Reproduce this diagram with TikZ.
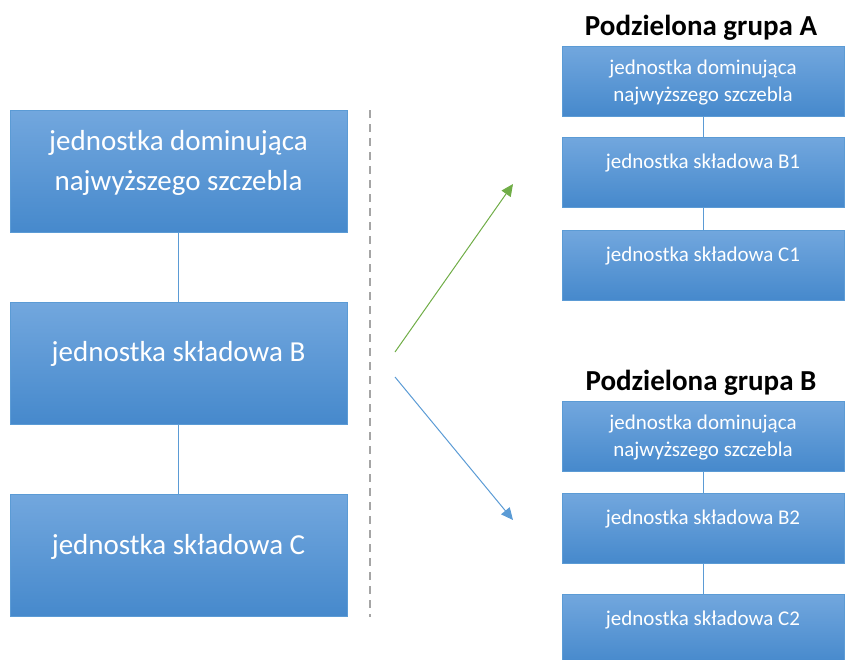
\documentclass[tikz,border=0pt]{standalone}
\usepackage{fontspec}
\setmainfont{Carlito}
\usetikzlibrary{arrows.meta}
\definecolor{boxtop}{RGB}{114,167,222}
\definecolor{boxbot}{RGB}{70,137,204}
\definecolor{boxline}{RGB}{91,155,213}
\definecolor{arrgreen}{RGB}{112,173,71}
\definecolor{sepgray}{RGB}{165,165,165}

\begin{document}
\begin{tikzpicture}[x=1pt,y=-1pt,
  unit/.style={draw=boxline,thin,top color=boxtop,bottom color=boxbot,inner sep=0pt},
  bigtext/.style={text=white,align=center,yshift=9pt,font=\fontsize{29}{40}\selectfont},
  smalltext/.style={text=white,align=center,yshift=9pt,font=\fontsize{21}{27}\selectfont},
  bigunit/.style={unit,minimum width=337pt,minimum height=122pt,label={[bigtext]center:#1}},
  smallunit/.style={unit,minimum width=282pt,minimum height=70pt,label={[smalltext]center:#1}},
  smalltop/.style={unit,minimum width=282pt,minimum height=70pt,label={[smalltext,yshift=-11pt]center:#1}},
  title/.style={font=\fontsize{29}{32}\selectfont\bfseries},
  link/.style={draw=boxline,thin},
  arj/.style={line width=1pt,-{Triangle[length=12pt,width=11pt]}}]
  \useasboundingbox (0,0) rectangle (845,659);

  % whole group
  \node(top)[bigunit={jednostka dominująca\\najwyższego szczebla}] at (178.5,171.5) {};
  \node(unit B)[bigunit={jednostka składowa B}] at (178.5,363) {};
  \node(unit C)[bigunit={jednostka składowa C}] at (178.5,555.5) {};
  \draw[link] (top) -- (unit B);
  \draw[link] (unit B) -- (unit C);

  \draw[sepgray,line width=2.5pt,dash pattern=on 8pt off 6pt] (370,110) -- (370,617);

  % arrows
  \coordinate (split) at (395,352);
  \coordinate (split2) at (395,377);
  \coordinate (to A) at (513,184);
  \coordinate (to B) at (513,520);
  \draw[arj,arrgreen] (split) -- (to A);
  \draw[arj,boxline] (split2) -- (to B);

  % group A
  \node(title A)[title] at (701,28) {Podzielona grupa A};
  \node(top A)[smalltop={jednostka dominująca\\najwyższego szczebla}] at (703,81) {};
  \node(unit B1)[smallunit={jednostka składowa B1}] at (703,172) {};
  \node(unit C1)[smallunit={jednostka składowa C1}] at (703,265) {};
  \draw[link] (top A) -- (unit B1);
  \draw[link] (unit B1) -- (unit C1);

  % group B
  \node(title B)[title] at (701,383) {Podzielona grupa B};
  \node(top B)[smalltop={jednostka dominująca\\najwyższego szczebla}] at (703,436) {};
  \node(unit B2)[smallunit={jednostka składowa B2}] at (703,528) {};
  \node(unit C2)[smallunit={jednostka składowa C2}] at (703,629) {};
  \draw[link] (top B) -- (unit B2);
  \draw[link] (unit B2) -- (unit C2);
\end{tikzpicture}
\end{document}
